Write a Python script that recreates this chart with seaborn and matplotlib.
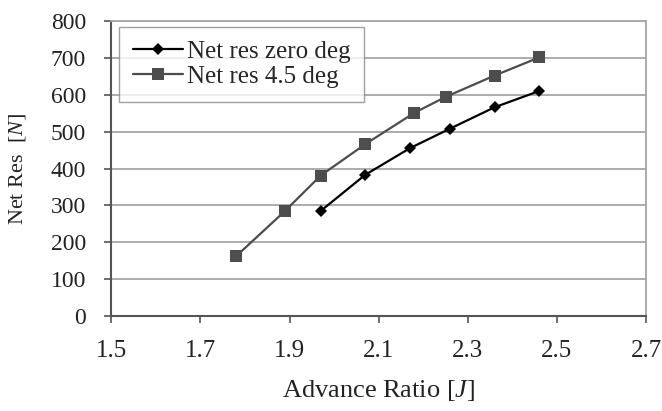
import matplotlib
matplotlib.use("Agg")
import matplotlib.pyplot as plt
import seaborn as sns
import pandas as pd

j_zero = [1.97, 2.07, 2.17, 2.26, 2.36, 2.46]
res_zero = [285, 383, 455, 508, 566, 610]
j_45 = [1.78, 1.89, 1.97, 2.07, 2.18, 2.25, 2.36, 2.46]
res_45 = [162, 285, 381, 466, 551, 594, 652, 701]
labels = ["Net res zero deg", "Net res 4.5 deg"]

sns.set_theme(style="white")
plt.rcParams['font.family'] = ['Liberation Serif', 'DejaVu Serif']
plt.rcParams['mathtext.fontset'] = 'custom'
plt.rcParams['mathtext.rm'] = 'Liberation Serif'
plt.rcParams['mathtext.it'] = 'Liberation Serif:italic'

df = pd.concat([
    pd.DataFrame({"J": j_zero, "R": res_zero, "s": labels[0]}),
    pd.DataFrame({"J": j_45, "R": res_45, "s": labels[1]}),
])

fig = plt.figure(figsize=(6.62, 4.11), dpi=100)
ax = fig.add_axes([0.168, 0.231, 0.808, 0.718])

ax.grid(axis="y", color="#a6a6a6", linewidth=1.3, zorder=0)
sns.lineplot(data=df, x="J", y="R", hue="s", style="s",
             palette={labels[0]: "#000000", labels[1]: "#4d4d4d"},
             markers={labels[0]: "D", labels[1]: "s"},
             dashes=False, markersize=8, linewidth=1.6, sort=False,
             markeredgewidth=0, ax=ax, zorder=3)

for line in ax.get_lines():
    if line.get_marker() == "D":
        line.set_markersize(6.5)
    elif line.get_marker() == "s":
        line.set_markersize(9)

ax.set_xlim(1.5, 2.7)
ax.set_ylim(0, 800)
ax.set_xticks([1.5, 1.7, 1.9, 2.1, 2.3, 2.5, 2.7])
ax.set_xticklabels(["1.5", "1.7", "1.9", "2.1", "2.3", "2.5", "2.7"])
ax.set_yticks(range(0, 801, 100))
ax.tick_params(axis="both", direction="out", length=5, width=1.2, color="#555555",
               labelsize=17, labelcolor="#222222", bottom=True, left=True)
ax.tick_params(axis="x", pad=12, labelsize=18)
ax.tick_params(axis="y", pad=13)
for side in ["top", "right"]:
    ax.spines[side].set_color("#a6a6a6")
    ax.spines[side].set_linewidth(1.3)
for side in ["left", "bottom"]:
    ax.spines[side].set_color("#555555")
    ax.spines[side].set_linewidth(1.5)

ax.set_xlabel("Advance Ratio [$J$]", fontsize=19, color="#222222", labelpad=12)
ax.set_ylabel("Net Res  [$N$]", fontsize=16, color="#222222")
ax.yaxis.set_label_coords(-0.155, 0.5)

h, l = ax.get_legend_handles_labels()
leg = ax.legend(h, l, loc="upper left", bbox_to_anchor=(0.015, 0.98), borderaxespad=0,
                fontsize=18, frameon=True, fancybox=False, edgecolor="#888888",
                handlelength=2.0, handletextpad=0.15, borderpad=0.55,
                labelspacing=0.1, title=None)
leg.get_frame().set_linewidth(1.0)

fig.savefig("out.png", dpi=100, facecolor="white")
